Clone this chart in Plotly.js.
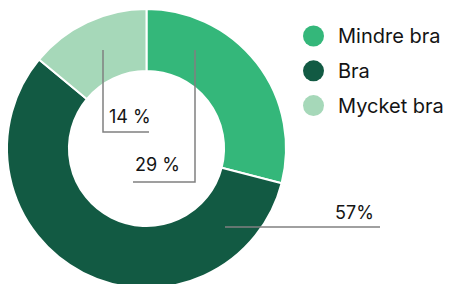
<!DOCTYPE html>
<html><head><meta charset="utf-8">
<script src="https://cdn.plot.ly/plotly-3.0.1.min.js"></script>
<style>html,body{margin:0;padding:0;overflow:hidden;background:#fff}</style>
</head><body><div id="chart"></div>
<script>
const categories = ["Mindre bra", "Bra", "Mycket bra"];
const values = [29, 57, 14];
const valueLabels = ["29 %", "57%", "14 %"];
const colors = ["#34b77a", "#125a43", "#a6d8b9"];

const W = 450, H = 292;
const px = x => x / W, py = y => 1 - y / H;

// leader line and label placement (pixels)
const labelGeom = [
  {path: [[195, 50], [195, 182], [133, 182]], tx: 132.5, ty: 164.5},
  {path: [[225, 227], [380, 227]], tx: 333, ty: 212.5},
  {path: [[103, 50], [103, 132], [149, 132]], tx: 107, ty: 116.5}
];

const FONT = "Inter, 'Noto Sans', sans-serif";

const shapes = labelGeom.map(g => ({
  type: 'path', xref: 'paper', yref: 'paper',
  path: g.path.map((p, i) => (i ? 'L' : 'M') + px(p[0]) + ',' + py(p[1])).join(' '),
  line: {color: '#808080', width: 1.5}
}));

const annotations = labelGeom.map((g, i) => ({
  xref: 'paper', yref: 'paper', x: px(g.tx), y: py(g.ty),
  xanchor: 'left', yanchor: 'middle', showarrow: false,
  text: valueLabels[i], font: {family: FONT, size: 18, color: '#141414'}
})).concat(categories.map(c => ({
  xref: 'x', yref: 'y', x: 0, y: c, xshift: 22.5,
  xanchor: 'left', yanchor: 'middle', showarrow: false,
  text: c, font: {family: FONT, size: 20, color: '#141414'}
})));

const data = [
  {
    type: 'pie', values: values, labels: categories,
    marker: {colors: colors, line: {color: '#ffffff', width: 2}},
    sort: false, direction: 'clockwise', rotation: 0, hole: 0.556,
    textinfo: 'none', hoverinfo: 'skip', showlegend: false,
    domain: {x: [px(7), px(286)], y: [py(288), py(9)]}
  },
  {
    type: 'scatter', mode: 'markers', x: categories.map(() => 0), y: categories,
    marker: {size: 21, color: colors}, cliponaxis: false, hoverinfo: 'skip', showlegend: false
  }
];

const layout = {
  width: W, height: H, margin: {l: 0, r: 0, t: 0, b: 0},
  showlegend: false, paper_bgcolor: '#ffffff', plot_bgcolor: 'rgba(0,0,0,0)',
  xaxis: {domain: [0, 1], range: [-313.5, 136.5], visible: false, fixedrange: true},
  yaxis: {domain: [py(123), py(18.6)], type: 'category', range: [2.5, -0.5], visible: false, fixedrange: true},
  shapes: shapes, annotations: annotations
};

Plotly.newPlot('chart', data, layout, {staticPlot: true, displayModeBar: false});
</script>
</body></html>
